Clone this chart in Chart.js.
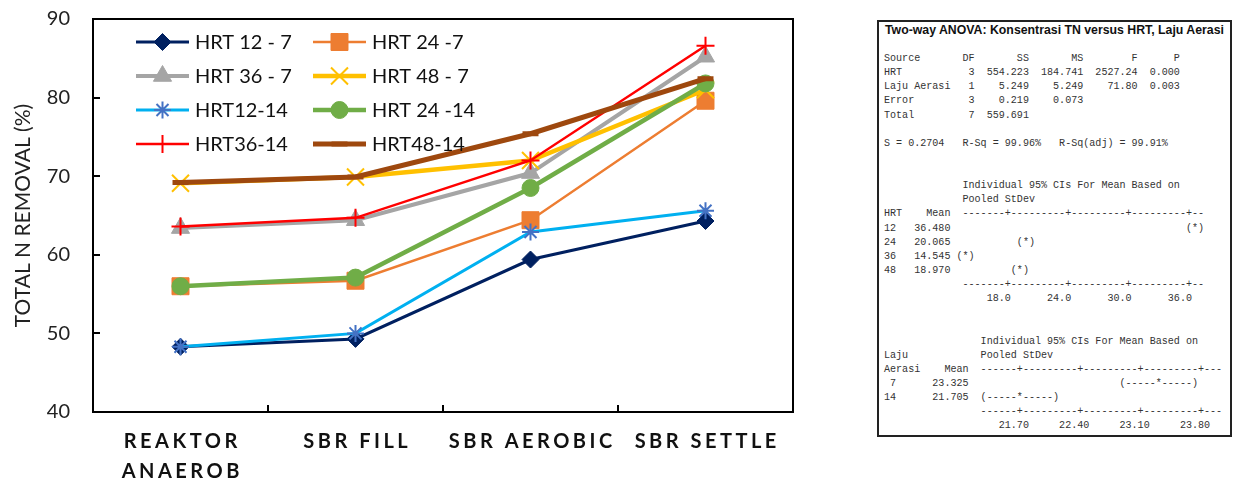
<!DOCTYPE html>
<html>
<head>
<meta charset="utf-8">
<script src="https://cdn.jsdelivr.net/npm/chart.js"></script>
<style>
  html, body { margin: 0; padding: 0; background: #fff; width: 1233px; height: 484px; overflow: hidden; }
  #wrap { position: absolute; left: 0; top: 0; width: 860px; height: 484px; }
  #box { position: absolute; left: 877px; top: 20px; width: 351px; height: 413px; border: 2px solid #222; background: #fff; }
  #boxTitle { position: absolute; left: 885px; top: 23px; font-family: "Liberation Sans", Arial, sans-serif; font-weight: bold; font-size: 12.3px; line-height: 14px; color: #111; white-space: nowrap; }
  #boxText { position: absolute; left: 884px; top: 52px; margin: 0; font-family: "Liberation Mono", "DejaVu Sans Mono", monospace; font-size: 10.07px; line-height: 14.13px; color: #333; white-space: pre; }
</style>
</head>
<body>
<div id="wrap"><canvas id="c"></canvas></div>
<div id="box"></div>
<div id="boxTitle">Two-way ANOVA: Konsentrasi TN versus HRT, Laju Aerasi</div>
<pre id="boxText">Source       DF       SS       MS        F      P
HRT           3  554.223  184.741  2527.24  0.000
Laju Aerasi   1    5.249    5.249    71.80  0.003
Error         3    0.219    0.073
Total         7  559.691

S = 0.2704   R-Sq = 99.96%   R-Sq(adj) = 99.91%


             Individual 95% CIs For Mean Based on
             Pooled StDev
HRT    Mean  -------+---------+---------+---------+--
12   36.480                                       (*)
24   20.065           (*)
36   14.545 (*)
48   18.970          (*)
             -------+---------+---------+---------+--
                 18.0      24.0      30.0      36.0


                Individual 95% CIs For Mean Based on
Laju            Pooled StDev
Aerasi    Mean  ------+---------+---------+---------+---
 7      23.325                         (-----*-----)
14      21.705  (-----*-----)
                ------+---------+---------+---------+---
                   21.70     22.40     23.10     23.80</pre>
<script>
// ---- data ----
const categories = [['REAKTOR', 'ANAEROB'], 'SBR FILL', 'SBR AEROBIC', 'SBR SETTLE'];
const seriesNames = ['HRT 12 - 7', 'HRT 24 -7', 'HRT 36 - 7', 'HRT 48 - 7', 'HRT12-14', 'HRT 24 -14', 'HRT36-14', 'HRT48-14'];
const hrt12_7  = [48.3, 49.3, 59.4, 64.3];
const hrt24_7  = [56.0, 56.7, 64.4, 79.6];
const hrt36_7  = [63.4, 64.4, 70.4, 85.2];
const hrt48_7  = [69.1, 69.9, 72.0, 81.0];
const hrt12_14 = [48.3, 50.0, 62.9, 65.6];
const hrt24_14 = [56.0, 57.1, 68.5, 81.8];
const hrt36_14 = [63.6, 64.7, 72.0, 86.6];
const hrt48_14 = [69.2, 69.9, 75.4, 82.4];
const yTicks = [40, 50, 60, 70, 80, 90];

// ---- styles ----
const styles = [
  { line: '#002060', mark: '#002060', lw: 3,   ps: 'rectRot',  r: 8.5, bw: 1 },
  { line: '#ED7D31', mark: '#ED7D31', lw: 2.5, ps: 'rect',     r: 12,  bw: 1 },
  { line: '#A5A5A5', mark: '#A5A5A5', lw: 4,   ps: 'triangle', r: 10.5,bw: 1 },
  { line: '#FFC000', mark: '#FFC000', lw: 4.5, ps: 'crossRot', r: 12,  bw: 2 },
  { line: '#00B0F0', mark: '#4472C4', lw: 3,   ps: 'star',     r: 8.5, bw: 2 },
  { line: '#70AD47', mark: '#70AD47', lw: 4.5, ps: 'circle',   r: 8.5, bw: 1 },
  { line: '#FF0000', mark: '#FF0000', lw: 2.5, ps: 'cross',    r: 9,   bw: 2 },
  { line: '#9E480E', mark: '#9E480E', lw: 5,   ps: 'line',     r: 8,   bw: 5 }
];
const values = [hrt12_7, hrt24_7, hrt36_7, hrt48_7, hrt12_14, hrt24_14, hrt36_14, hrt48_14];
const N = values.length;

const datasets = values.map((v, i) => ({
  label: seriesNames[i],
  data: v,
  borderColor: styles[i].line,
  backgroundColor: styles[i].mark,
  borderWidth: styles[i].lw,
  pointStyle: styles[i].ps,
  pointRadius: styles[i].r,
  pointHoverRadius: styles[i].r,
  pointBackgroundColor: styles[i].mark,
  pointBorderColor: styles[i].mark,
  pointBorderWidth: styles[i].bw,
  tension: 0,
  fill: false,
  order: N - 1 - i
}));

const LS = 3.5; // x label letter spacing

const framePlugin = {
  id: 'frame',
  beforeDraw(chart) {
    const sx = chart.scales.x;
    if (sx && !sx._lsPatched) {
      const orig = sx.drawLabels;
      sx.drawLabels = function (area) {
        const c = this.ctx;
        c.save();
        try { c.letterSpacing = LS + 'px'; } catch (e) {}
        c.translate(LS / 2, 0);
        orig.call(this, area);
        c.restore();
      };
      sx._lsPatched = true;
    }
  },
  afterDatasetsDraw(chart) {
    const { ctx, chartArea: a, scales } = chart;
    ctx.save();
    ctx.strokeStyle = '#000';
    ctx.lineWidth = 2;
    ctx.strokeRect(a.left, a.top, a.right - a.left, a.bottom - a.top);
    ctx.beginPath();
    yTicks.forEach(t => {
      const y = Math.round(scales.y.getPixelForValue(t));
      ctx.moveTo(a.left, y); ctx.lineTo(a.left + 7, y);
    });
    for (let i = 1; i < categories.length; i++) {
      const x = Math.round((scales.x.getPixelForValue(i - 1) + scales.x.getPixelForValue(i)) / 2);
      ctx.moveTo(x, a.bottom); ctx.lineTo(x, a.bottom - 7);
    }
    ctx.stroke();

    // legend (two columns, row-wise order)
    ctx.font = '20px Lato';
    ctx.textBaseline = 'middle';
    ctx.textAlign = 'left';
    datasets.forEach((d, i) => {
      const col = i % 2, row = Math.floor(i / 2);
      const y = a.top + 23 + row * 34;
      const x0 = a.left + 43 + col * 177;
      const x1 = x0 + 53;
      const st = styles[i];
      ctx.strokeStyle = st.line;
      ctx.lineWidth = st.lw;
      ctx.beginPath(); ctx.moveTo(x0, y); ctx.lineTo(x1, y); ctx.stroke();
      ctx.fillStyle = st.mark;
      ctx.strokeStyle = st.mark;
      ctx.lineWidth = st.bw;
      if (Chart.helpers && Chart.helpers.drawPoint) {
        Chart.helpers.drawPoint(ctx, { pointStyle: st.ps, radius: st.r, borderWidth: st.bw, rotation: 0 }, (x0 + x1) / 2, y);
      }
      ctx.fillStyle = '#111';
      ctx.fillText(d.label, x1 + 6, y + 1);
    });
    ctx.restore();
  }
};

new Chart(document.getElementById('c'), {
  type: 'line',
  data: { labels: categories, datasets },
  options: {
    responsive: true,
    maintainAspectRatio: false,
    animation: false,
    layout: { padding: { left: 0, top: 19, right: 67, bottom: 0 } },
    plugins: { legend: { display: false }, tooltip: { enabled: false } },
    scales: {
      x: {
        type: 'category',
        offset: true,
        grid: { display: false, drawTicks: false },
        border: { display: false },
        ticks: {
          color: '#111',
          font: { family: 'Lato', size: 20, weight: 'bold', lineHeight: 1.5 },
          padding: 15,
          maxRotation: 0,
          autoSkip: false
        },
        afterFit(s) { s.height = 72; s.paddingLeft = 0; s.paddingRight = 0; }
      },
      y: {
        min: 40, max: 90,
        grid: { display: false, drawTicks: false },
        border: { display: false },
        afterBuildTicks(s) { s.ticks = yTicks.map(v => ({ value: v })); },
        ticks: { color: '#222', font: { family: 'Lato', size: 20 }, padding: 23 },
        title: {
          display: true,
          text: 'TOTAL N REMOVAL (%)',
          color: '#222',
          font: { family: 'Lato', size: 21 },
          padding: { top: 11, bottom: 0 }
        },
        afterFit(s) { s.width = 93; s.paddingTop = 0; s.paddingBottom = 0; }
      }
    }
  },
  plugins: [framePlugin]
});
</script>
</body>
</html>
